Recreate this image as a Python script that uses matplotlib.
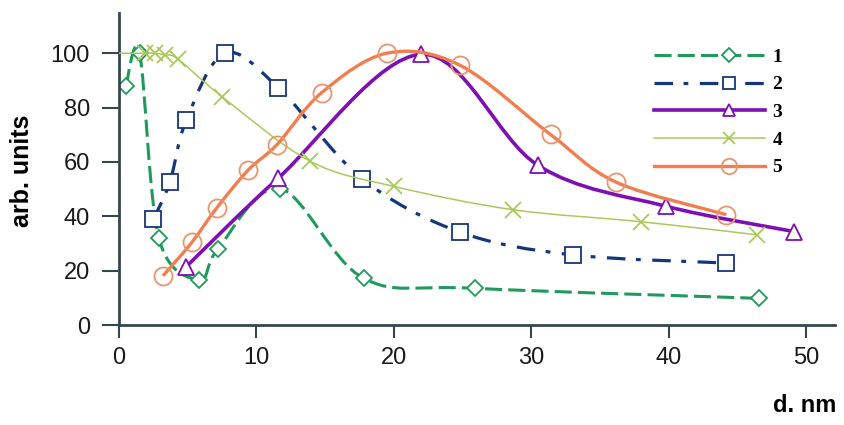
import numpy as np
import matplotlib
matplotlib.use("Agg")
import matplotlib.pyplot as plt
from matplotlib.path import Path
from matplotlib.patches import PathPatch
from matplotlib.lines import Line2D
from matplotlib.legend_handler import HandlerLine2D

# values
x1 = [0.5, 1.5, 2.9, 5.85, 7.2, 11.7, 17.8, 25.9, 46.6]
y1 = [88, 100, 32, 16.6, 28, 50.2, 17.2, 13.5, 9.8]

x2 = [2.5, 3.7, 4.9, 7.7, 11.6, 17.7, 24.8, 33.0, 44.2]
y2 = [39, 52.5, 75.4, 100, 87.3, 53.8, 34.2, 25.8, 22.8]

x3 = [4.9, 11.6, 22.0, 30.5, 39.8, 49.1]
y3 = [21.5, 54.1, 99.6, 58.7, 43.7, 34.4]

x4 = [0, 1.9, 2.6, 3.35, 4.3, 7.5, 13.9, 20.0, 28.7, 38.0, 46.4]
y4 = [100, 100, 100, 99.3, 97.8, 84, 60.3, 51, 42.4, 38.0, 33.2]

x5 = [3.2, 5.3, 7.1, 9.4, 11.5, 14.75, 19.5, 24.8, 31.4, 36.2, 44.2]
y5 = [18.1, 30.4, 43, 57, 66.4, 85.5, 100, 95.6, 70.1, 52.5, 40.6]

labels = ["1", "2", "3", "4", "5"]


def smooth_path(xs, ys):
    p = np.column_stack([xs, ys]).astype(float)
    p = np.vstack([p[0], p, p[-1]])
    verts = [p[1]]
    codes = [Path.MOVETO]
    for i in range(1, len(p) - 2):
        c1 = p[i] + (p[i + 1] - p[i - 1]) / 6
        c2 = p[i + 1] - (p[i + 2] - p[i]) / 6
        verts += [c1, c2, p[i + 1]]
        codes += [Path.CURVE4] * 3
    return Path(verts, codes)


class MarkerAt(HandlerLine2D):
    # full legend line, marker at about two thirds of its length
    def create_artists(self, legend, orig_handle, xdescent, ydescent,
                       width, height, fontsize, trans):
        x0 = -xdescent
        yc = (height - ydescent) / 2
        line = Line2D([x0, x0 + width], [yc, yc])
        self.update_prop(line, orig_handle, legend)
        line.set_marker("")
        mark = Line2D([x0 + 0.68 * width], [yc])
        self.update_prop(mark, orig_handle, legend)
        mark.set_linestyle("none")
        line.set_transform(trans)
        mark.set_transform(trans)
        return [line, mark]


series = [
    dict(x=x1, y=y1, color="#1f9a5c", lw=2.2, ls=(0, (5.6, 2.0)),
         marker="D", ms=8.5, mfc="white", mew=1.3, me=None),
    dict(x=x2, y=y2, color="#14367a", lw=2.3, ls=(0, (5.8, 3.3, 1.5, 3.6)),
         marker="s", ms=11, mfc="white", mew=1.3, me=None),
    dict(x=x3, y=y3, color="#7d0fb4", lw=2.6, ls="-",
         marker="^", ms=11, mfc="white", mew=1.3, me=None),
    dict(x=x4, y=y4, color="#a9c95a", lw=1.1, ls="-",
         marker="x", ms=11, mfc="none", mew=1.3, me=slice(1, None)),
    dict(x=x5, y=y5, color="#f07e4e", lw=2.4, ls="-",
         marker="o", ms=13, mfc="none", mew=1.3, me=None),
]

fig = plt.figure(figsize=(8.45, 4.25), dpi=100)
ax = fig.add_axes([119 / 845, 100 / 425, 716 / 845, 312 / 425])
ax.set_xlim(0, 52.1)
ax.set_ylim(0, 114.8)

handles = []
for k, s in enumerate(series):
    pp = PathPatch(smooth_path(s["x"], s["y"]), fill=False,
                   edgecolor=s["color"], lw=s["lw"], ls=s["ls"],
                   capstyle="butt", zorder=2 + k)
    ax.add_patch(pp)
    mec = "#e8956e" if s["marker"] == "o" else s["color"]
    ax.plot(s["x"], s["y"], ls="none", marker=s["marker"], ms=s["ms"],
            mfc=s["mfc"], mec=mec, mew=s["mew"], markevery=s["me"],
            zorder=2.5 + k)
    handles.append(Line2D([], [], color=s["color"], lw=s["lw"], ls=s["ls"],
                          marker=s["marker"], ms=s["ms"] * 0.85, mfc=s["mfc"],
                          mec=mec, mew=s["mew"], dash_capstyle="butt"))

spine_c = "#34474f"
for side in ["top", "right"]:
    ax.spines[side].set_visible(False)
for side in ["left", "bottom"]:
    ax.spines[side].set_color(spine_c)
    ax.spines[side].set_linewidth(2)

ax.set_xticks([0, 10, 20, 30, 40, 50])
ax.set_yticks([0, 20, 40, 60, 80, 100])
ax.tick_params(axis="x", direction="out", length=9, width=1.5,
               color=spine_c, pad=7, labelsize=17, labelcolor="#1a1a1a")
ax.tick_params(axis="y", direction="out", length=12, width=1.5,
               color=spine_c, pad=9, labelsize=17, labelcolor="#1a1a1a")
for t in ax.get_xticklabels() + ax.get_yticklabels():
    t.set_family("Liberation Sans")

fig.text(22 / 845, 1 - 171 / 425, "arb. units", rotation=90, ha="center",
         va="center", fontsize=18, fontweight="bold", family="Liberation Sans")
fig.text(805 / 845, 1 - 405 / 425, "d. nm", ha="center", va="center",
         fontsize=17, fontweight="bold", family="Liberation Sans")

leg = ax.legend(handles, labels, loc="upper left",
                bbox_to_anchor=(654 / 845, 1 - 48 / 425),
                bbox_transform=fig.transFigure, frameon=False,
                handlelength=5.7, handletextpad=0.4, labelspacing=0.52,
                borderpad=0, borderaxespad=0,
                prop=dict(family="Liberation Serif", weight="bold", size=14),
                handler_map={Line2D: MarkerAt()})
leg.set_zorder(10)

fig.savefig("out.png", dpi=100)
